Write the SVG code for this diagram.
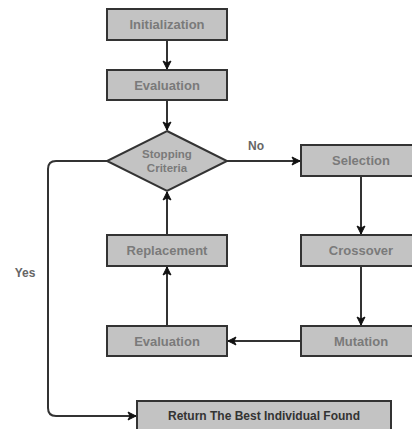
<svg xmlns="http://www.w3.org/2000/svg" width="412" height="429" viewBox="0 0 412 429">
<defs>
<style>
.box{fill:#c3c3c3;stroke:#333;stroke-width:2}
.t{font-family:"Liberation Sans",Arial,sans-serif;font-weight:bold;font-size:13px;fill:#7a7a7a;text-anchor:middle;dominant-baseline:central}
.dt{font-size:11.5px}
.dark{fill:#333;font-size:12px}
.lbl{font-family:"Liberation Sans",Arial,sans-serif;font-weight:bold;font-size:12px;fill:#666;text-anchor:middle;dominant-baseline:central}
.c{fill:none;stroke:#333;stroke-width:2}
</style>
<marker id="arr" markerUnits="userSpaceOnUse" markerWidth="10" markerHeight="10" refX="9" refY="5" orient="auto">
<path d="M1,1 L9,5 L1,9 L3,5 Z" fill="#111" stroke="#111" stroke-width="1"/>
</marker>
</defs>
<rect width="412" height="429" fill="#fff"/>
<g id="connectors">
<path class="c" d="M167,40 V69" marker-end="url(#arr)"/>
<path class="c" d="M167,100 V130" marker-end="url(#arr)"/>
<path class="c" d="M227,161 H300" marker-end="url(#arr)"/>
<path class="c" d="M361,176 V234" marker-end="url(#arr)"/>
<path class="c" d="M361,266 V325" marker-end="url(#arr)"/>
<path class="c" d="M301,341 H228" marker-end="url(#arr)"/>
<path class="c" d="M167,326 V267" marker-end="url(#arr)"/>
<path class="c" d="M167,235 V192" marker-end="url(#arr)"/>
<path class="c" d="M107,161 H56 Q48,161 48,169 V408 Q48,416 56,416 H136" marker-end="url(#arr)"/>
<text class="lbl" x="256" y="146">No</text>
<text class="lbl" x="25" y="273">Yes</text>
</g>
<g id="initialization">
<rect class="box" x="107" y="9" width="120" height="31"/>
<text class="t" x="167" y="24.5">Initialization</text>
</g>
<g id="evaluation1">
<rect class="box" x="107" y="70" width="120" height="30"/>
<text class="t" x="167" y="85">Evaluation</text>
</g>
<g id="stopping">
<path class="box" d="M167,131 L227,161 L167,191 L107,161 Z"/>
<text class="t dt" x="167" y="154">Stopping</text>
<text class="t dt" x="167" y="168">Criteria</text>
</g>
<g id="selection">
<rect class="box" x="301" y="145" width="122" height="31"/>
<text class="t" x="361" y="160.5">Selection</text>
</g>
<g id="crossover">
<rect class="box" x="301" y="235" width="122" height="31"/>
<text class="t" x="361" y="250.5">Crossover</text>
</g>
<g id="mutation">
<rect class="box" x="301" y="326" width="122" height="30"/>
<text class="t" x="361" y="341">Mutation</text>
</g>
<g id="replacement">
<rect class="box" x="107" y="235" width="120" height="31"/>
<text class="t" x="167" y="250.5">Replacement</text>
</g>
<g id="evaluation2">
<rect class="box" x="107" y="326" width="120" height="30"/>
<text class="t" x="167" y="341">Evaluation</text>
</g>
<g id="return">
<rect class="box" x="137" y="401" width="254" height="40"/>
<text class="t dark" x="264" y="416">Return The Best Individual Found</text>
</g>
</svg>
